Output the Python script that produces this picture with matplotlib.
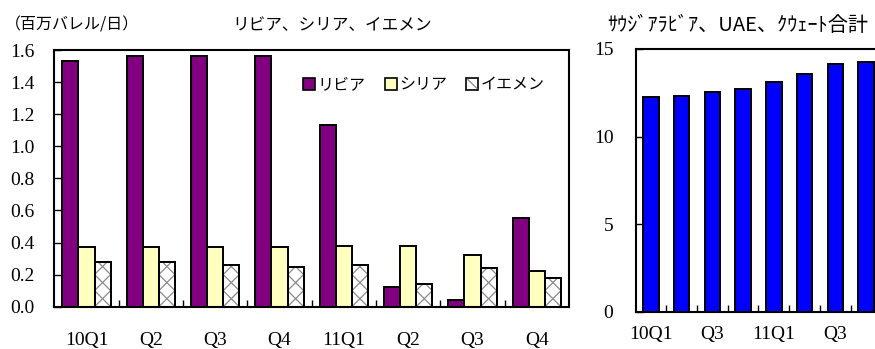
import matplotlib.pyplot as plt
import numpy as np
from matplotlib.patches import Patch, Rectangle
from matplotlib.lines import Line2D
from matplotlib.collections import LineCollection
from matplotlib.legend_handler import HandlerBase

plt.rcParams['font.family'] = ['Liberation Serif', 'Noto Sans CJK JP']
jp = ['Noto Sans CJK JP', 'DejaVu Sans']

# left panel data (million barrels/day)
quarters = ['10Q1', 'Q2', 'Q3', 'Q4', '11Q1', 'Q2', 'Q3', 'Q4']
libya = [1.53, 1.56, 1.56, 1.56, 1.13, 0.12, 0.04, 0.55]
syria = [0.37, 0.37, 0.37, 0.37, 0.38, 0.38, 0.32, 0.22]
yemen = [0.28, 0.28, 0.26, 0.25, 0.26, 0.14, 0.24, 0.18]

# right panel data
gulf = [12.28, 12.32, 12.55, 12.7, 13.13, 13.57, 14.16, 14.28]
gulf_labels = ['10Q1', '', 'Q3', '', '11Q1', '', 'Q3', '']

HATCH = '#8a8a8a'


def cross_hatch(ax, rect):
    # diagonal cross pattern inside a bar (pixel space), spacing = bar width
    inv = ax.transData.inverted()
    (x0, y0), (x1, y1) = ax.transData.transform(
        [(rect.get_x(), rect.get_y()), (rect.get_x() + rect.get_width(), rect.get_y() + rect.get_height())])
    s = x1 - x0
    segs = []
    k = -1
    while y0 + k * s < y1:
        b = y0 + k * s
        # slope +1: (x0+t, b+t)
        t0, t1 = max(0, y0 - b), min(s, y1 - b)
        if t1 > t0:
            segs.append(inv.transform([(x0 + t0, b + t0), (x0 + t1, b + t1)]))
        # slope -1: (x0+t, b+s-t)
        t0, t1 = max(0, b + s - y1), min(s, b + s - y0)
        if t1 > t0:
            segs.append(inv.transform([(x0 + t0, b + s - t0), (x0 + t1, b + s - t1)]))
        k += 1
    ax.add_collection(LineCollection(segs, colors=HATCH, linewidths=0.9, zorder=2.5), autolim=False)


class HatchBox(HandlerBase):
    def create_artists(self, legend, orig_handle, xdescent, ydescent, width, height, fontsize, trans):
        r = Rectangle((-xdescent, -ydescent), width, height, facecolor='white',
                      edgecolor='black', linewidth=1.2, transform=trans)
        l = Line2D([-xdescent + 1, -xdescent + width - 1], [-ydescent + height - 1, -ydescent + 1],
                   color=HATCH, linewidth=0.9, transform=trans)
        return [r, l]


fig = plt.figure(figsize=(8.75, 3.49), dpi=100)

# ---- left chart
ax = fig.add_axes([0.0621, 0.1212, 0.5882, 0.7355])
x = np.arange(len(quarters))
w = 0.25
ax.set_xlim(-0.5, len(quarters) - 0.5)
ax.set_ylim(0, 1.6)
ax.bar(x - w, libya, w, color='#800080', edgecolor='black', linewidth=1.4, zorder=2)
ax.bar(x, syria, w, color='#FFFFC0', edgecolor='black', linewidth=1.4, zorder=2)
yb = ax.bar(x + w, yemen, w, color='white', edgecolor='black', linewidth=1.4, zorder=2)
for r in yb:
    cross_hatch(ax, r)
ax.bar(x + w, yemen, w, fill=False, edgecolor='black', linewidth=1.4, zorder=3)

ax.set_yticks(np.arange(0, 1.61, 0.2))
ax.set_yticklabels(['%.1f' % v for v in np.arange(0, 1.61, 0.2)])
ax.set_xticks(x)
ax.set_xticklabels(quarters)
ax.set_xticks(np.arange(0.5, len(quarters) - 0.5), minor=True)
ax.tick_params(axis='x', which='major', length=0, pad=18, labelsize=14)
ax.tick_params(axis='x', which='minor', direction='in', length=5, width=1)
ax.tick_params(axis='y', direction='in', length=5, width=1, pad=14, labelsize=14)
for s in ax.spines.values():
    s.set_linewidth(1.5)

h_lib = Patch(facecolor='#800080', edgecolor='black', linewidth=1.2)
h_syr = Patch(facecolor='#FFFFC0', edgecolor='black', linewidth=1.2)
h_yem = Patch(facecolor='white', edgecolor='black')
ax.legend([h_lib, h_syr, h_yem], ['リビア', 'シリア', 'イエメン'], ncol=3,
          loc='center left', bbox_to_anchor=(0.3375, 0.7564), bbox_transform=fig.transFigure,
          frameon=False, handlelength=0.75, handleheight=0.75, handletextpad=0.15,
          columnspacing=1.2, borderpad=0, prop={'family': jp, 'size': 11.5},
          handler_map={h_yem: HatchBox()})

fig.text(0.006, 0.928, '（百万バレル/日）', family=jp, fontsize=11.5, va='center', ha='left')
fig.text(0.379, 0.928, 'リビア、シリア、イエメン', family=jp, fontsize=12, va='center', ha='center')

# ---- right chart
ax2 = fig.add_axes([0.7265, 0.1069, 0.2807, 0.7527])
x2 = np.arange(len(gulf))
ax2.bar(x2, gulf, 0.5, color='#0000FF', edgecolor='black', linewidth=1.4, zorder=2)
ax2.set_xlim(-0.5, len(gulf) - 0.5)
ax2.set_ylim(0, 15)
ax2.set_yticks([0, 5, 10, 15])
ax2.set_xticks(x2)
ax2.set_xticklabels(gulf_labels)
ax2.set_xticks(np.arange(0.5, len(gulf) - 0.5), minor=True)
ax2.tick_params(axis='x', which='major', length=0, pad=10, labelsize=14)
ax2.tick_params(axis='x', which='minor', direction='in', length=5, width=1)
ax2.tick_params(axis='y', direction='in', length=5, width=1, pad=16, labelsize=14)
for s in ax2.spines.values():
    s.set_linewidth(1.5)

fig.text(0.843, 0.928, 'ｻｳｼﾞｱﾗﾋﾞｱ、UAE、ｸｳｪｰﾄ合計', family=jp, fontsize=14.5,
         va='center', ha='center')

fig.savefig('out.png', dpi=100)
